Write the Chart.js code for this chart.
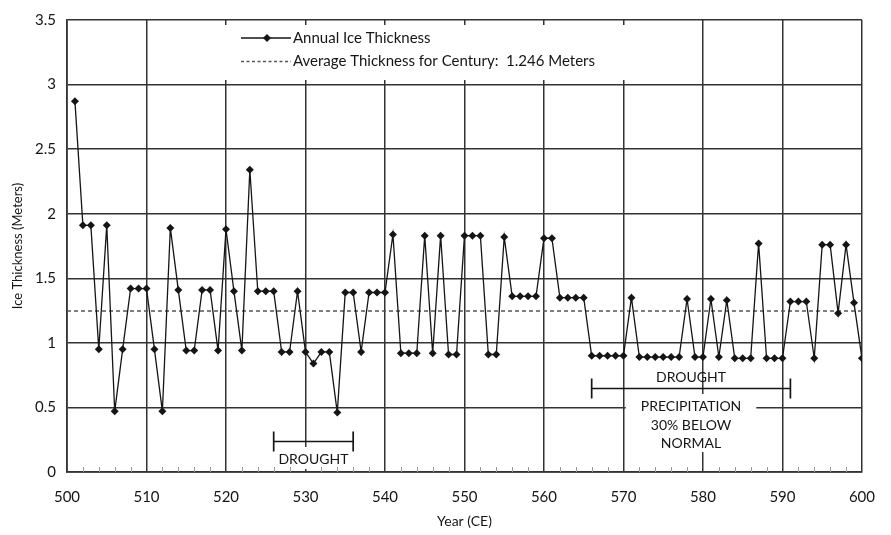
<!DOCTYPE html>
<html lang="en">
<head>
<meta charset="UTF-8" />
<title>Annual Ice Thickness, 501-600 CE</title>
<script src="https://cdn.jsdelivr.net/npm/chart.js"></script>
<style>
  html, body { margin: 0; padding: 0; background: #fff; }
  #wrap { width: 891px; height: 535px; }
</style>
</head>
<body>
<div id="wrap"><canvas id="iceChart" width="891" height="535"></canvas></div>
<script>
// data
const years = [
  501, 502, 503, 504, 505, 506, 507, 508, 509, 510,
  511, 512, 513, 514, 515, 516, 517, 518, 519, 520,
  521, 522, 523, 524, 525, 526, 527, 528, 529, 530,
  531, 532, 533, 534, 535, 536, 537, 538, 539, 540,
  541, 542, 543, 544, 545, 546, 547, 548, 549, 550,
  551, 552, 553, 554, 555, 556, 557, 558, 559, 560,
  561, 562, 563, 564, 565, 566, 567, 568, 569, 570,
  571, 572, 573, 574, 575, 576, 577, 578, 579, 580,
  581, 582, 583, 584, 585, 586, 587, 588, 589, 590,
  591, 592, 593, 594, 595, 596, 597, 598, 599, 600
];
const thickness = [
  2.87, 1.91, 1.91, 0.95, 1.91, 0.47, 0.95, 1.42, 1.42, 1.42,
  0.95, 0.47, 1.89, 1.41, 0.94, 0.94, 1.41, 1.41, 0.94, 1.88,
  1.40, 0.94, 2.34, 1.40, 1.40, 1.40, 0.93, 0.93, 1.40, 0.93,
  0.84, 0.93, 0.93, 0.46, 1.39, 1.39, 0.93, 1.39, 1.39, 1.39,
  1.84, 0.92, 0.92, 0.92, 1.83, 0.92, 1.83, 0.91, 0.91, 1.83,
  1.83, 1.83, 0.91, 0.91, 1.82, 1.36, 1.36, 1.36, 1.36, 1.81,
  1.81, 1.35, 1.35, 1.35, 1.35, 0.90, 0.90, 0.90, 0.90, 0.90,
  1.35, 0.89, 0.89, 0.89, 0.89, 0.89, 0.89, 1.34, 0.89, 0.89,
  1.34, 0.89, 1.33, 0.88, 0.88, 0.88, 1.77, 0.88, 0.88, 0.88,
  1.32, 1.32, 1.32, 0.88, 1.76, 1.76, 1.23, 1.76, 1.31, 0.88
];
const avgThickness = 1.246;
const avgSpan = [500, 600];
const xTicks = [500, 510, 520, 530, 540, 550, 560, 570, 580, 590, 600];
const yTicks = [0, 0.5, 1, 1.5, 2, 2.5, 3, 3.5];

// drought markers: year range, level of the bar, labels above / below it
const droughts = [
  { from: 526, to: 536, level: 0.24, above: [], below: ['DROUGHT'] },
  { from: 566, to: 591, level: 0.65, above: ['DROUGHT'], below: ['PRECIPITATION', '30% BELOW', 'NORMAL'] }
];

const FONT = "Lato, 'Liberation Sans', sans-serif";
const GRID = '#333';
const INK = '#151515';

const iceSeries = years.map((yr, i) => ({ x: yr, y: thickness[i] }));
const avgSeries = avgSpan.map(yr => ({ x: yr, y: avgThickness }));

// legend, drought bars and the little x ticks
const overlay = {
  id: 'overlay',
  beforeDatasetsDraw(chart) {
    const { ctx, chartArea: a, scales: { x, y } } = chart;
    ctx.save();
    ctx.fillStyle = '#fff';

    // white box behind the legend
    ctx.fillRect(a.left + 150, a.top + 5, 425, 55);

    // white box under each drought bar's lower labels
    ctx.font = '14px ' + FONT;
    droughts.forEach(d => {
      const cx = (x.getPixelForValue(d.from) + x.getPixelForValue(d.to)) / 2;
      const by = y.getPixelForValue(d.level);
      const w = Math.max(...d.below.map(t => ctx.measureText(t).width));
      const bottom = Math.min(a.bottom - 1, by + 18 * d.below.length + 10);
      ctx.fillRect(cx - w / 2 - 15, by + 6, w + 30, bottom - by - 6);
    });

    // minor ticks every two years along the bottom
    ctx.strokeStyle = '#9a9a9a';
    ctx.lineWidth = 1;
    for (let yr = 502; yr < 600; yr += 2) {
      if (yr % 10 === 0) continue;
      const px = Math.round(x.getPixelForValue(yr)) + 0.5;
      ctx.beginPath();
      ctx.moveTo(px, a.bottom);
      ctx.lineTo(px, a.bottom - 5);
      ctx.stroke();
    }
    ctx.restore();
  },
  afterDraw(chart) {
    const { ctx, chartArea: a, scales: { x, y } } = chart;
    const ds = chart.data.datasets;
    ctx.save();

    // legend
    const lx = a.left + 174, ty = a.top + 18;
    ctx.strokeStyle = INK;
    ctx.lineWidth = 1.3;
    ctx.beginPath();
    ctx.moveTo(lx, ty);
    ctx.lineTo(lx + 50, ty);
    ctx.stroke();
    ctx.fillStyle = INK;
    ctx.beginPath();
    ctx.moveTo(lx + 26, ty - 4);
    ctx.lineTo(lx + 30, ty);
    ctx.lineTo(lx + 26, ty + 4);
    ctx.lineTo(lx + 22, ty);
    ctx.closePath();
    ctx.fill();
    ctx.strokeStyle = '#555';
    ctx.setLineDash([3, 2.5]);
    ctx.beginPath();
    ctx.moveTo(lx, ty + 23.5);
    ctx.lineTo(lx + 50, ty + 23.5);
    ctx.stroke();
    ctx.setLineDash([]);

    ctx.font = '15px ' + FONT;
    ctx.textBaseline = 'middle';
    ctx.textAlign = 'left';
    ctx.fillStyle = INK;
    ctx.fillText(ds[0].label, lx + 52, ty);
    ctx.fillText(ds[1].label, lx + 52, ty + 23.5);

    // drought bars
    ctx.font = '14px ' + FONT;
    ctx.textAlign = 'center';
    droughts.forEach(d => {
      const x0 = x.getPixelForValue(d.from), x1 = x.getPixelForValue(d.to);
      const by = Math.round(y.getPixelForValue(d.level)) + 0.5;
      const cx = (x0 + x1) / 2;
      ctx.strokeStyle = INK;
      ctx.lineWidth = 1.7;
      ctx.beginPath();
      ctx.moveTo(x0, by); ctx.lineTo(x1, by);
      ctx.moveTo(x0, by - 10); ctx.lineTo(x0, by + 10);
      ctx.moveTo(x1, by - 10); ctx.lineTo(x1, by + 10);
      ctx.stroke();
      d.above.forEach((t, i) => ctx.fillText(t, cx, by - 11 - 18 * i));
      d.below.forEach((t, i) => ctx.fillText(t, cx, by + 18 + 18.5 * i));
    });
    ctx.restore();
  }
};

new Chart(document.getElementById('iceChart'), {
  type: 'line',
  data: {
    datasets: [
      {
        label: 'Annual Ice Thickness',
        data: iceSeries,
        borderColor: INK,
        borderWidth: 1.3,
        pointStyle: 'rectRot',
        pointRadius: 4,
        pointBackgroundColor: INK,
        pointBorderWidth: 0,
        tension: 0
      },
      {
        label: 'Average Thickness for Century:  ' + avgThickness + ' Meters',
        data: avgSeries,
        borderColor: '#555',
        borderWidth: 1.5,
        borderDash: [4, 3],
        pointRadius: 0
      }
    ]
  },
  options: {
    responsive: false,
    animation: false,
    layout: { padding: { top: 15, right: 29, left: 0, bottom: 0 } },
    scales: {
      x: {
        type: 'linear',
        min: 500,
        max: 600,
        afterBuildTicks: s => { s.ticks = xTicks.map(v => ({ value: v })); },
        afterFit: s => { s.height = 63; },
        grid: { color: GRID, lineWidth: 1.5, drawTicks: false },
        border: { color: GRID, width: 1.7 },
        ticks: { padding: 16, color: INK, font: { family: FONT, size: 15 }, maxRotation: 0 },
        title: { display: true, text: 'Year (CE)', color: INK, font: { family: FONT, size: 14 }, padding: { top: 0, bottom: 5 } }
      },
      y: {
        min: 0,
        max: 3.5,
        afterBuildTicks: s => { s.ticks = yTicks.map(v => ({ value: v })); },
        afterFit: s => { s.width = 67; },
        grid: { color: GRID, lineWidth: 1.5, drawTicks: false },
        border: { color: GRID, width: 1.7 },
        ticks: { padding: 11, color: INK, font: { family: FONT, size: 15 }, callback: v => String(v) },
        title: { display: true, text: 'Ice Thickness (Meters)', color: INK, font: { family: FONT, size: 13 }, padding: { top: 10, bottom: 0 } }
      }
    },
    plugins: { legend: { display: false }, tooltip: { enabled: false } }
  },
  plugins: [overlay]
});
</script>
</body>
</html>
